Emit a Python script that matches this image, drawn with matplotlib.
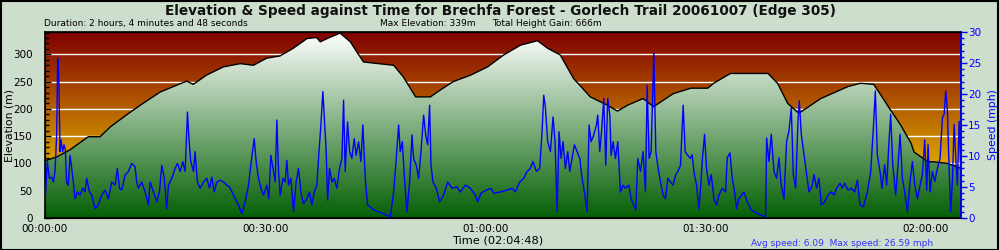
import numpy as np
import matplotlib
matplotlib.use("Agg")
import matplotlib.pyplot as plt
from matplotlib.colors import LinearSegmentedColormap
from matplotlib.patches import Polygon, Rectangle
from matplotlib.ticker import MultipleLocator, FuncFormatter

plt.rcParams["font.family"] = ["DejaVu Sans"]

# --- Data ---
duration_min = 124.8  # 2:04:48

elev_min = [0.0, 1.6, 3.4, 5.9, 7.5, 8.9, 11.1, 13.0, 15.7, 17.5, 19.3, 20.2,
            22.0, 24.3, 26.6, 28.4, 30.2, 32.0, 33.8, 35.7, 37.0, 37.5, 38.6,
            40.2, 41.6, 42.7, 43.4, 47.5, 48.8, 50.5, 52.5, 53.9, 55.6, 58.0,
            60.3, 62.5, 64.8, 67.1, 68.5, 70.2, 72.0, 74.3, 76.6, 78.0, 79.4,
            81.5, 82.9, 85.6, 88.0, 90.3, 91.1, 93.4, 98.5, 99.8, 101.2, 102.7,
            105.7, 109.4, 111.1, 112.9, 113.9, 115.2, 116.6, 118.0, 118.4,
            120.3, 121.1, 123.0, 124.8]
elev_m = [105, 112, 125, 149, 149, 167, 189, 207, 231, 241, 251, 245,
          262, 277, 283, 280, 293, 297, 311, 329, 331, 323, 330,
          339, 323, 300, 286, 280, 259, 222, 222, 235, 250, 262,
          277, 299, 317, 325, 311, 299, 256, 222, 207, 196, 207,
          219, 204, 228, 238, 238, 247, 265, 265, 247, 210, 192,
          219, 241, 247, 245, 225, 198, 170, 137, 121,
          103, 103, 100, 91]

speed_min = [0.0, 0.32, 0.59, 0.91, 1.14, 1.36, 1.59, 1.73, 1.86, 2.05, 2.18,
             2.41, 2.59, 2.77, 2.95, 3.18, 3.41, 3.64, 3.86, 4.09, 4.41, 4.77,
             5.14, 5.45, 5.68, 6.05, 6.36, 6.82, 7.27, 7.73, 8.18, 8.64, 9.09,
             9.55, 9.86, 10.14, 10.45, 10.91, 11.36, 11.82, 12.27, 12.50,
             12.73, 13.18, 13.64, 14.09, 14.32, 14.77, 15.23, 15.59, 15.91,
             16.23, 16.59, 16.82, 17.27, 17.73, 18.05, 18.41, 18.77, 19.09,
             19.41, 19.64, 19.86, 20.23, 20.45, 20.77, 21.14, 21.59, 22.05,
             22.41, 22.73, 23.04, 23.41, 23.86, 24.32, 24.77, 25.14, 25.68,
             26.36, 26.82, 27.27, 27.73, 28.04, 28.32, 28.50, 28.77, 29.09,
             29.41, 29.77, 30.23, 30.50, 30.77, 31.14, 31.36, 31.59, 31.82,
             32.04, 32.41, 32.72, 32.95, 33.18, 33.50, 33.86, 34.22, 34.54,
             34.86, 35.22, 35.68, 36.04, 36.36, 36.68, 37.04, 37.31, 37.59,
             37.86, 38.04, 38.31, 38.50, 38.77, 39.09, 39.40, 39.77, 40.13,
             40.45, 40.68, 40.90, 41.22, 41.50, 41.81, 42.13, 42.40, 42.72,
             43.04, 43.31, 43.63, 43.95, 44.31, 44.77, 45.68, 47.04, 47.50,
             47.86, 48.18, 48.40, 48.68, 48.95, 49.31, 49.68, 50.00, 50.22,
             50.59, 50.90, 51.22, 51.59, 51.86, 52.13, 52.40, 52.59, 52.86,
             53.31, 53.77, 54.31, 54.86, 55.45, 56.13, 56.59, 57.27, 57.95,
             58.63, 58.95, 59.40, 60.13, 60.77, 61.13, 62.04, 62.95, 63.63,
             64.08, 64.68, 65.22, 65.68, 66.13, 66.49, 66.95, 67.40, 67.72,
             67.95, 68.17, 68.49, 68.86, 69.22, 69.49, 69.77, 70.04, 70.31,
             70.58, 70.90, 71.22, 71.49, 71.81, 72.13, 72.49, 72.86, 73.17,
             73.49, 73.86, 74.13, 74.40, 74.77, 75.13, 75.31, 75.58, 75.86,
             76.13, 76.40, 76.67, 76.95, 77.13, 77.40, 77.72, 78.04, 78.40,
             78.77, 79.08, 79.54, 79.86, 80.22, 80.49, 80.76, 81.13, 81.49,
             81.81, 82.04, 82.31, 82.58, 82.95, 83.22, 83.54, 83.86, 84.22,
             84.54, 84.85, 85.22, 85.58, 85.90, 86.22, 86.58, 86.95, 87.22,
             87.58, 87.95, 88.18, 88.41, 88.77, 89.09, 89.32, 89.54, 89.86,
             90.13, 90.45, 90.77, 91.14, 91.50, 91.82, 92.27, 92.73, 92.95,
             93.32, 93.63, 93.95, 94.23, 94.54, 95.23, 95.68, 96.23, 97.04,
             98.18, 98.32, 98.63, 98.95, 99.32, 99.68, 100.00, 100.30, 100.68,
             101.04, 101.36, 101.68, 101.95, 102.27, 102.59, 102.77, 103.04,
             103.41, 103.77, 104.09, 104.54, 104.77, 105.13, 105.45, 105.77,
             106.22, 106.68, 107.13, 107.50, 107.86, 108.31, 108.63, 108.95,
             109.40, 109.86, 110.31, 110.68, 111.04, 111.50, 112.04, 112.50,
             112.86, 113.13, 113.40, 113.77, 114.04, 114.40, 114.68, 114.99,
             115.22, 115.50, 115.90, 116.22, 116.50, 116.81, 117.13, 117.50,
             117.86, 118.18, 118.50, 118.86, 119.22, 119.54, 119.86, 120.13,
             120.31, 120.59, 120.90, 121.22, 121.59, 121.95, 122.27, 122.50,
             122.72, 122.95, 123.18, 123.40, 123.63, 123.86, 124.09, 124.31,
             124.54, 124.77]
speed_mph = [2.6, 9.1, 6.4, 6.6, 5.8, 7.5, 13.4, 25.8, 23.6, 10.7, 12.6,
             10.7, 11.8, 11.0, 5.8, 5.3, 10.1, 8.0, 5.8, 3.1, 4.2, 3.7,
             4.8, 4.2, 6.4, 4.2, 3.7, 1.5, 2.1, 3.7, 4.5, 3.1, 5.8,
             5.3, 8.0, 4.8, 4.5, 6.9, 7.5, 8.8, 8.3, 5.8,
             4.8, 5.8, 4.2, 2.1, 5.8, 4.2, 2.6, 4.2, 8.5,
             6.6, 1.5, 5.3, 6.4, 8.0, 8.8, 7.5, 9.1, 7.5,
             17.1, 12.3, 9.1, 7.5, 10.7, 5.8, 4.8, 5.8, 6.4,
             4.8, 6.6, 4.2, 5.8, 6.1, 5.8, 5.3, 5.0, 3.7,
             2.1, 0.7, 2.6, 5.3, 8.5, 11.2, 12.8, 9.1, 6.4,
             4.8, 3.7, 5.3, 3.1, 10.1, 7.5, 5.8, 15.8, 7.5,
             3.7, 6.4, 5.8, 9.3, 5.3, 6.4, 1.0, 5.8, 8.0,
             4.2, 2.3, 3.1, 4.2, 2.1, 4.2, 5.3, 10.4, 15.0,
             20.4, 16.6, 10.7, 2.9, 8.0, 5.8, 6.4, 4.8, 8.0,
             9.6, 19.0, 7.5, 15.5, 10.7, 9.6, 12.8, 10.1, 12.3,
             9.1, 15.0, 6.4, 2.1, 1.8, 1.3, 0.9, 0.2, 4.2,
             9.6, 15.0, 10.7, 12.3, 6.9, 1.0, 5.8, 13.4, 9.6,
             8.5, 6.4, 10.7, 16.6, 13.4, 11.8, 18.2, 8.5, 5.8,
             4.8, 2.6, 3.7, 5.8, 4.8, 5.0, 4.2, 5.3, 4.8,
             3.7, 2.6, 4.0, 4.5, 4.8, 4.0, 4.2, 4.5, 4.8,
             4.2, 5.8, 6.4, 7.5, 8.0, 9.1, 7.5, 8.0, 13.9,
             19.8, 17.9, 12.3, 10.7, 16.3, 12.3, 1.0, 13.9, 9.6,
             12.3, 8.0, 10.7, 7.5, 9.6, 11.8, 10.7, 9.6, 6.4,
             4.2, 1.0, 15.0, 12.3, 13.4, 15.0, 16.6, 10.7, 14.4,
             19.3, 8.5, 19.3, 16.6, 10.1, 12.3, 9.6, 12.3, 4.2,
             5.3, 4.8, 5.3, 3.1, 2.1, 1.3, 9.6, 7.5, 10.7,
             4.2, 21.4, 9.6, 10.7, 26.6, 10.7, 8.0, 5.8, 3.7,
             3.1, 6.4, 5.8, 5.3, 6.9, 7.5, 8.5, 18.2, 10.7,
             10.1, 9.6, 10.2, 7.5, 5.3, 1.5, 4.8, 9.1, 13.5,
             8.0, 5.3, 7.0, 3.1, 2.1, 3.7, 4.8, 4.2, 9.7,
             10.5, 6.4, 4.2, 1.5, 3.1, 4.2, 2.6, 1.3, 0.7,
             0.2, 12.9, 9.1, 13.5, 7.5, 6.4, 9.7, 5.3, 3.1,
             12.4, 14.0, 17.8, 7.0, 4.8, 15.6, 18.9, 13.5,
             10.2, 7.0, 4.2, 5.3, 7.0, 4.8, 6.4, 2.1,
             2.6, 3.7, 4.2, 3.7, 4.8, 5.6, 4.8, 5.6,
             4.5, 4.8, 4.2, 6.1, 2.1, 1.8, 4.2, 7.5,
             14.5, 20.5, 10.2, 7.5, 4.8, 8.6, 5.3, 12.4,
             16.7, 8.6, 3.7, 8.6, 13.5, 6.4, 4.2, 1.0,
             5.9, 9.1, 5.3, 3.1, 5.3, 7.0, 12.6, 4.5,
             11.8, 4.2, 7.5, 5.9, 8.0, 9.7, 16.2, 16.7,
             20.5, 17.3, 8.0, 1.0, 5.9, 15.1, 9.7, 5.3,
             15.6, 8.0]

title = "Elevation & Speed against Time for Brechfa Forest - Gorlech Trail 20061007 (Edge 305)"
duration_txt = "Duration: 2 hours, 4 minutes and 48 seconds"
max_elev_txt = "Max Elevation: 339m"
gain_txt = "Total Height Gain: 666m"
speed_txt = "Avg speed: 6.09  Max speed: 26.59 mph"
elev_max = 341
speed_max = 30

bg = "#cddecd"

fig = plt.figure(figsize=(10, 2.5), dpi=100, facecolor=bg)
ax = fig.add_axes([0.045, 0.128, 0.916, 0.744])
ax.set_xlim(0, duration_min)
ax.set_ylim(0, elev_max)

# --- Sky gradient (dark red -> gold) ---
sky_cmap = LinearSegmentedColormap.from_list("sky", ["#ffe800", "#800000"])
grad = np.linspace(0, 1, 256).reshape(-1, 1)
ax.imshow(grad, cmap=sky_cmap, aspect="auto", origin="lower",
          extent=[0, duration_min, 0, elev_max], zorder=0)

# white grid lines (only show above terrain)
for yv in range(50, 301, 50):
    ax.axhline(yv, color="white", linewidth=1, zorder=1)

# --- Terrain gradient clipped to elevation profile ---
verts = np.column_stack([elev_min + [duration_min, 0], elev_m + [0, 0]])
terrain = Polygon(verts, closed=True, facecolor="none", edgecolor="none")
ax.add_patch(terrain)
green_cmap = LinearSegmentedColormap.from_list("green", ["#046004", "#ffffff"])
img = ax.imshow(grad, cmap=green_cmap, aspect="auto", origin="lower",
                extent=[0, duration_min, 0, elev_max], zorder=2)
img.set_clip_path(terrain)
ax.plot(elev_min, elev_m, color="black", linewidth=1, zorder=3)

# --- Elevation axis ---
ax.yaxis.set_major_locator(MultipleLocator(50))
ax.yaxis.set_minor_locator(MultipleLocator(10))
ax.xaxis.set_major_locator(MultipleLocator(30))
ax.xaxis.set_minor_locator(MultipleLocator(5))
ax.xaxis.set_major_formatter(FuncFormatter(
    lambda v, p: "%02d:%02d:00" % (int(v) // 60, int(v) % 60)))
ax.tick_params(axis="both", which="both", direction="in", labelsize=7.5,
               color="black", width=1)
ax.tick_params(axis="both", which="major", length=4)
ax.tick_params(axis="both", which="minor", length=3)
ax.tick_params(axis="y", pad=9)
ax.tick_params(axis="x", pad=4)
ax.set_ylabel("Elevation (m)", fontsize=7.8)
ax.yaxis.set_label_coords(-0.033, 0.5)
ax.set_xlabel("Time (02:04:48)", fontsize=8.2)
ax.xaxis.set_label_coords(0.494, -0.095)
for s in ax.spines.values():
    s.set_linewidth(1.2)

# --- Speed on twin axis ---
ax2 = ax.twinx()
ax2.set_ylim(0, speed_max)
ax2.plot(speed_min, speed_mph, color="#0000ff", linewidth=1, zorder=4)
ax2.yaxis.set_major_locator(MultipleLocator(5))
ax2.yaxis.set_minor_locator(MultipleLocator(1))
ax2.tick_params(axis="y", which="both", direction="out", colors="#0000ff",
                labelsize=7.5, width=1)
ax2.tick_params(axis="y", which="major", length=4, pad=1)
ax2.tick_params(axis="y", which="minor", length=2)
ax2.spines["right"].set_color("#0000ff")
ax2.spines["right"].set_linewidth(1.2)
ax2.set_ylabel("Speed (mph)", color="#0000ff", fontsize=7.8, labelpad=5)

# --- Header / footer text ---
fig.text(0.5, 0.955, title, ha="center", va="center", fontsize=9.8,
         fontweight="bold", color="#111111")
fig.text(0.044, 0.905, duration_txt, ha="left", va="center", fontsize=6.5)
fig.text(0.380, 0.905, max_elev_txt, ha="left", va="center", fontsize=6.5)
fig.text(0.492, 0.905, gain_txt, ha="left", va="center", fontsize=6.5)
fig.text(0.751, 0.028, speed_txt, ha="left", va="center", fontsize=6.5,
         color="#3333ff")

# outer border
fig.patches.append(Rectangle((0.001, 0.002), 0.997, 0.994, transform=fig.transFigure,
                             fill=False, edgecolor="black", linewidth=1.5))

plt.savefig("out.png", dpi=100, facecolor=bg)
plt.close(fig)
